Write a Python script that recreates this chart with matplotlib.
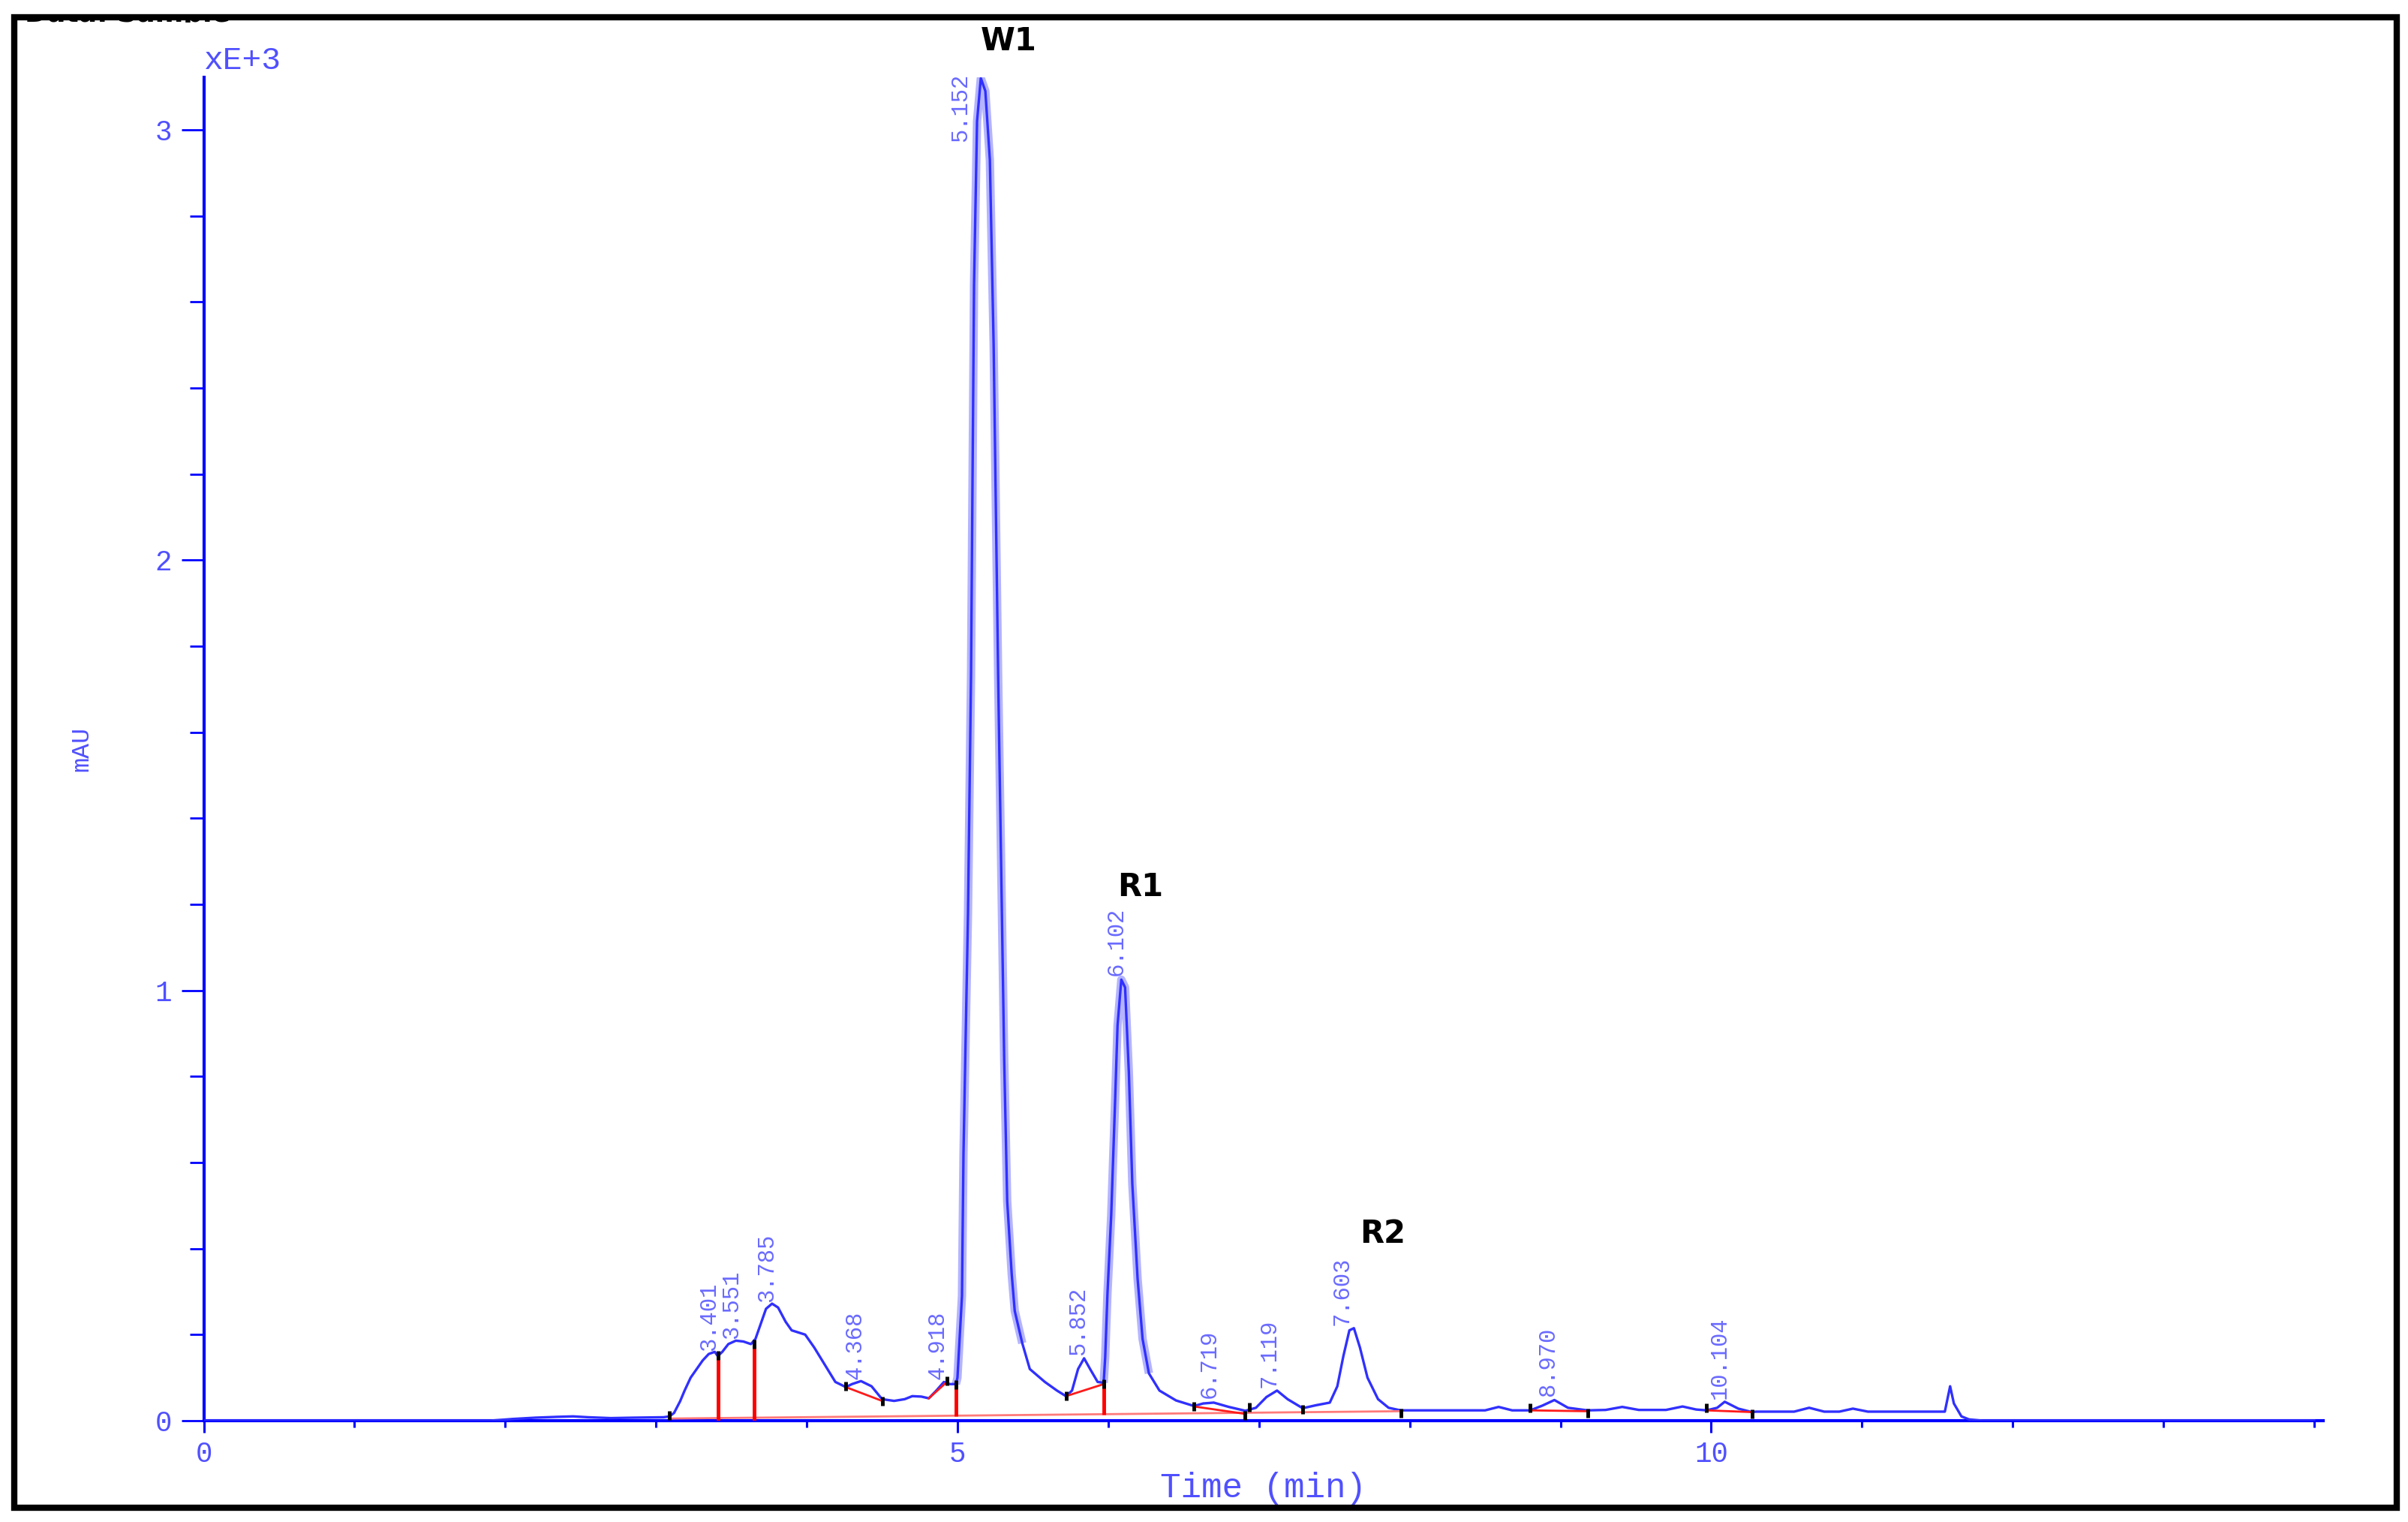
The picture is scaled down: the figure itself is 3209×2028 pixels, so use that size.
import matplotlib as mpl
import matplotlib.pyplot as plt
import matplotlib.patches as mpatches
from matplotlib.transforms import Bbox
import numpy as np

# --- chromatogram trace (time in min, signal in mAU x 1000) -----------------
trace_t = [0.0, 1.9, 2.05, 2.2, 2.35, 2.45, 2.55, 2.7, 2.85, 3.05, 3.09, 3.12,
           3.16, 3.19, 3.23, 3.27, 3.31, 3.35, 3.39, 3.41, 3.44, 3.48, 3.53,
           3.58, 3.63, 3.66, 3.69, 3.73, 3.77, 3.81, 3.86, 3.90, 3.99, 4.05,
           4.12, 4.19, 4.26, 4.30, 4.36, 4.43, 4.50, 4.58, 4.65, 4.70, 4.76,
           4.81, 4.86, 4.91, 4.95, 4.99, 5.00, 5.03, 5.04, 5.07, 5.09, 5.11,
           5.13, 5.155, 5.185, 5.215, 5.24, 5.27, 5.29, 5.31, 5.33, 5.36, 5.38,
           5.43, 5.48, 5.58, 5.66, 5.72, 5.76, 5.80, 5.84, 5.88, 5.93, 5.97,
           5.98, 5.995, 6.02, 6.045, 6.062, 6.087, 6.112, 6.137, 6.16, 6.195,
           6.228, 6.27, 6.34, 6.45, 6.57, 6.63, 6.70, 6.80, 6.91, 6.98, 7.05,
           7.12, 7.19, 7.29, 7.38, 7.47, 7.52, 7.56, 7.60, 7.63, 7.67, 7.72,
           7.79, 7.86, 7.94, 8.2, 8.5, 8.59, 8.68, 8.80, 8.88, 8.96, 9.05, 9.18,
           9.30, 9.41, 9.52, 9.70, 9.81, 9.90, 9.97, 10.04, 10.09, 10.18, 10.27,
           10.30, 10.55, 10.65, 10.75, 10.85, 10.94, 11.04, 11.55, 11.585,
           11.61, 11.66, 11.71, 11.8, 14.0]
trace_y = [0.0, 0.0, 0.004, 0.007, 0.009, 0.010, 0.008, 0.006, 0.007, 0.008,
           0.010, 0.018, 0.045, 0.07, 0.10, 0.12, 0.14, 0.155, 0.16, 0.15, 0.16,
           0.178, 0.186, 0.184, 0.178, 0.19, 0.22, 0.26, 0.272, 0.263, 0.23,
           0.21, 0.20, 0.17, 0.13, 0.09, 0.078, 0.085, 0.092, 0.08, 0.05, 0.046,
           0.05, 0.057, 0.056, 0.052, 0.07, 0.09, 0.085, 0.085, 0.10, 0.29,
           0.62, 1.18, 1.73, 2.64, 3.02, 3.12, 3.09, 2.93, 2.50, 1.73, 1.29,
           0.84, 0.51, 0.34, 0.255, 0.18, 0.12, 0.09, 0.07, 0.057, 0.07, 0.12,
           0.145, 0.12, 0.09, 0.088, 0.147, 0.294, 0.478, 0.735, 0.919, 1.025,
           1.007, 0.81, 0.55, 0.33, 0.19, 0.11, 0.07, 0.047, 0.034, 0.04, 0.042,
           0.032, 0.023, 0.03, 0.055, 0.07, 0.05, 0.029, 0.036, 0.042, 0.08,
           0.15, 0.21, 0.215, 0.17, 0.10, 0.05, 0.03, 0.024, 0.024, 0.024,
           0.032, 0.024, 0.024, 0.035, 0.048, 0.03, 0.024, 0.025, 0.032, 0.025,
           0.025, 0.033, 0.026, 0.024, 0.03, 0.044, 0.028, 0.02, 0.021, 0.021,
           0.03, 0.021, 0.021, 0.028, 0.021, 0.021, 0.08, 0.04, 0.01, 0.003,
           0.0, 0.0]

# peak labels: retention time text and apex height
peak_rt = ["3.401", "3.551", "3.785", "4.368", "4.918", "5.152", "5.852",
           "6.102", "6.719", "7.119", "7.603", "8.970", "10.104"]
peak_h = [0.162, 0.19, 0.276, 0.096, 0.096, 3.12, 0.151, 1.035, 0.052, 0.076,
          0.221, 0.058, 0.05]

# named compounds
compound_names = ["W1", "R1", "R2"]
compound_rt = [5.152, 6.102, 7.603]
compound_h = [3.12, 1.035, 0.221]

# integration: long baseline, valley baselines, drop lines, event marks
base_t = [3.09, 7.94]
base_y = [0.005, 0.022]
seg_t0 = [4.26, 4.81, 5.72, 6.57, 8.80, 9.97]
seg_y0 = [0.078, 0.052, 0.057, 0.033, 0.024, 0.024]
seg_t1 = [4.50, 4.93, 5.97, 6.905, 9.18, 10.27]
seg_y1 = [0.046, 0.09, 0.085, 0.016, 0.022, 0.02]
drop_t = [3.41, 3.65, 4.99, 5.97]
drop_lo = [0.0, 0.0, 0.011, 0.014]
drop_hi = [0.15, 0.176, 0.084, 0.085]
mark_t = [3.09, 3.41, 3.65, 4.26, 4.50, 4.93, 4.99, 5.72, 5.97, 6.57, 6.905,
          6.935, 7.29, 7.94, 8.80, 9.18, 9.97, 10.27]
mark_y = [0.012, 0.152, 0.178, 0.08, 0.045, 0.092, 0.084, 0.058, 0.085, 0.034,
          0.012, 0.032, 0.026, 0.018, 0.03, 0.018, 0.03, 0.016]

BLUE = "#0000ff"
TXT = "#5050ff"
MONO = "Liberation Mono"

W, H = 3209, 2028
fig = plt.figure(figsize=(W / 100, H / 100), dpi=100)
fig.patch.set_facecolor("white")

x0_px, x1_px = 271.5, 3096.0
y0_px, y1_px = 1893.0, 103.0
ax = fig.add_axes([x0_px / W, 1 - y0_px / H, (x1_px - x0_px) / W, (y0_px - y1_px) / H])
ax.set_xlim(0, 14.06)
ax.set_ylim(0, 3.122)

for s in ("top", "right"):
    ax.spines[s].set_visible(False)
for s in ("left", "bottom"):
    ax.spines[s].set_color(BLUE)
    ax.spines[s].set_linewidth(3)

# halo on the steep main peaks, then the trace
t = np.array(trace_t)
y = np.array(trace_y)
for lo, hi in [(4.99, 5.45), (5.96, 6.30)]:
    m = (t >= lo) & (t <= hi)
    ax.plot(t[m], y[m], color="#b4b4ff", lw=8, zorder=2, solid_capstyle="butt")
ax.plot(t, y, color="#3030ff", lw=2.4, zorder=3)

# integration marks
ax.plot(base_t, base_y, color="#ff7a7a", lw=2, zorder=4)
for a, b, c, d in zip(seg_t0, seg_y0, seg_t1, seg_y1):
    ax.plot([a, c], [b, d], color="#ff1a1a", lw=2, zorder=4)
ax.vlines(drop_t, drop_lo, drop_hi, color="#ff0000", lw=3.5, zorder=4)
ax.plot(mark_t, mark_y, ls="none", marker="|", ms=8, mew=3.5, color="black", zorder=5)

# peak retention-time labels (the off-scale one is pulled down beside the peak)
top = ax.get_ylim()[1]
for lab, h in zip(peak_rt, peak_h):
    dx = 0.025 if h < top - 0.15 else -0.055
    ax.text(float(lab) + dx, min(h, top - 0.15), lab, rotation=90,
            ha="right", va="bottom", fontsize=22, family=MONO, color="#6a6aff",
            zorder=6, clip_on=False)

# compound names
name_dx = [0.19, 0.11, 0.22]
name_dy = [0.085, 0.205, 0.213]
for name, rt, h, dx, dy in zip(compound_names, compound_rt, compound_h, name_dx, name_dy):
    ax.text(rt + dx, h + dy, name, ha="center", va="center", fontsize=30,
            fontweight="bold", family="DejaVu Sans", color="black", clip_on=False)

# ticks
ax.xaxis.set_major_locator(mpl.ticker.MultipleLocator(5))
ax.xaxis.set_minor_locator(mpl.ticker.MultipleLocator(1))
ax.yaxis.set_major_locator(mpl.ticker.FixedLocator([0, 1, 2, 3]))
ax.yaxis.set_minor_locator(mpl.ticker.MultipleLocator(0.2))
ax.tick_params(axis="x", which="major", direction="out", length=11.5, width=2.2,
               color=BLUE, pad=8, labelsize=27, labelcolor=TXT)
ax.tick_params(axis="x", which="minor", direction="out", length=6.5, width=2.2, color=BLUE)
ax.tick_params(axis="y", which="major", direction="out", length=21.5, width=2.0,
               color=BLUE, pad=9, labelsize=27, labelcolor=TXT)
ax.tick_params(axis="y", which="minor", direction="out", length=13.5, width=2.0, color=BLUE)
for lab in ax.get_xticklabels() + ax.get_yticklabels():
    lab.set_family(MONO)

ax.set_xlabel("Time (min)", fontsize=33, family=MONO, color=TXT)
ax.xaxis.set_label_coords(0.5, -0.038)
ax.set_ylabel("mAU", fontsize=24, family=MONO, color=TXT)
ax.yaxis.set_label_coords(-0.052, 0.5)
ax.text(0.0, 1.006, "xE+3", transform=ax.transAxes, ha="left", va="baseline",
        fontsize=31, family=MONO, color=TXT)

# page header, cut off by the frame: only the lower sliver shows
hdr = fig.text(33 / W, 1 - 28.5 / H, "Data: Sample", ha="left", va="baseline",
               fontsize=26, fontweight="bold", family="DejaVu Sans", color="black")
hdr.set_clip_box(Bbox.from_extents(0, H - 30, W, H - 19))

# outer frame
frame = mpatches.Rectangle((18.5 / W, 1 - 2008.5 / H), (3193.5 - 18.5) / W,
                           (2008.5 - 22.5) / H, transform=fig.transFigure,
                           fill=False, lw=6, ec="black", zorder=10)
fig.add_artist(frame)

fig.savefig("out.png", dpi=100, facecolor="white")
